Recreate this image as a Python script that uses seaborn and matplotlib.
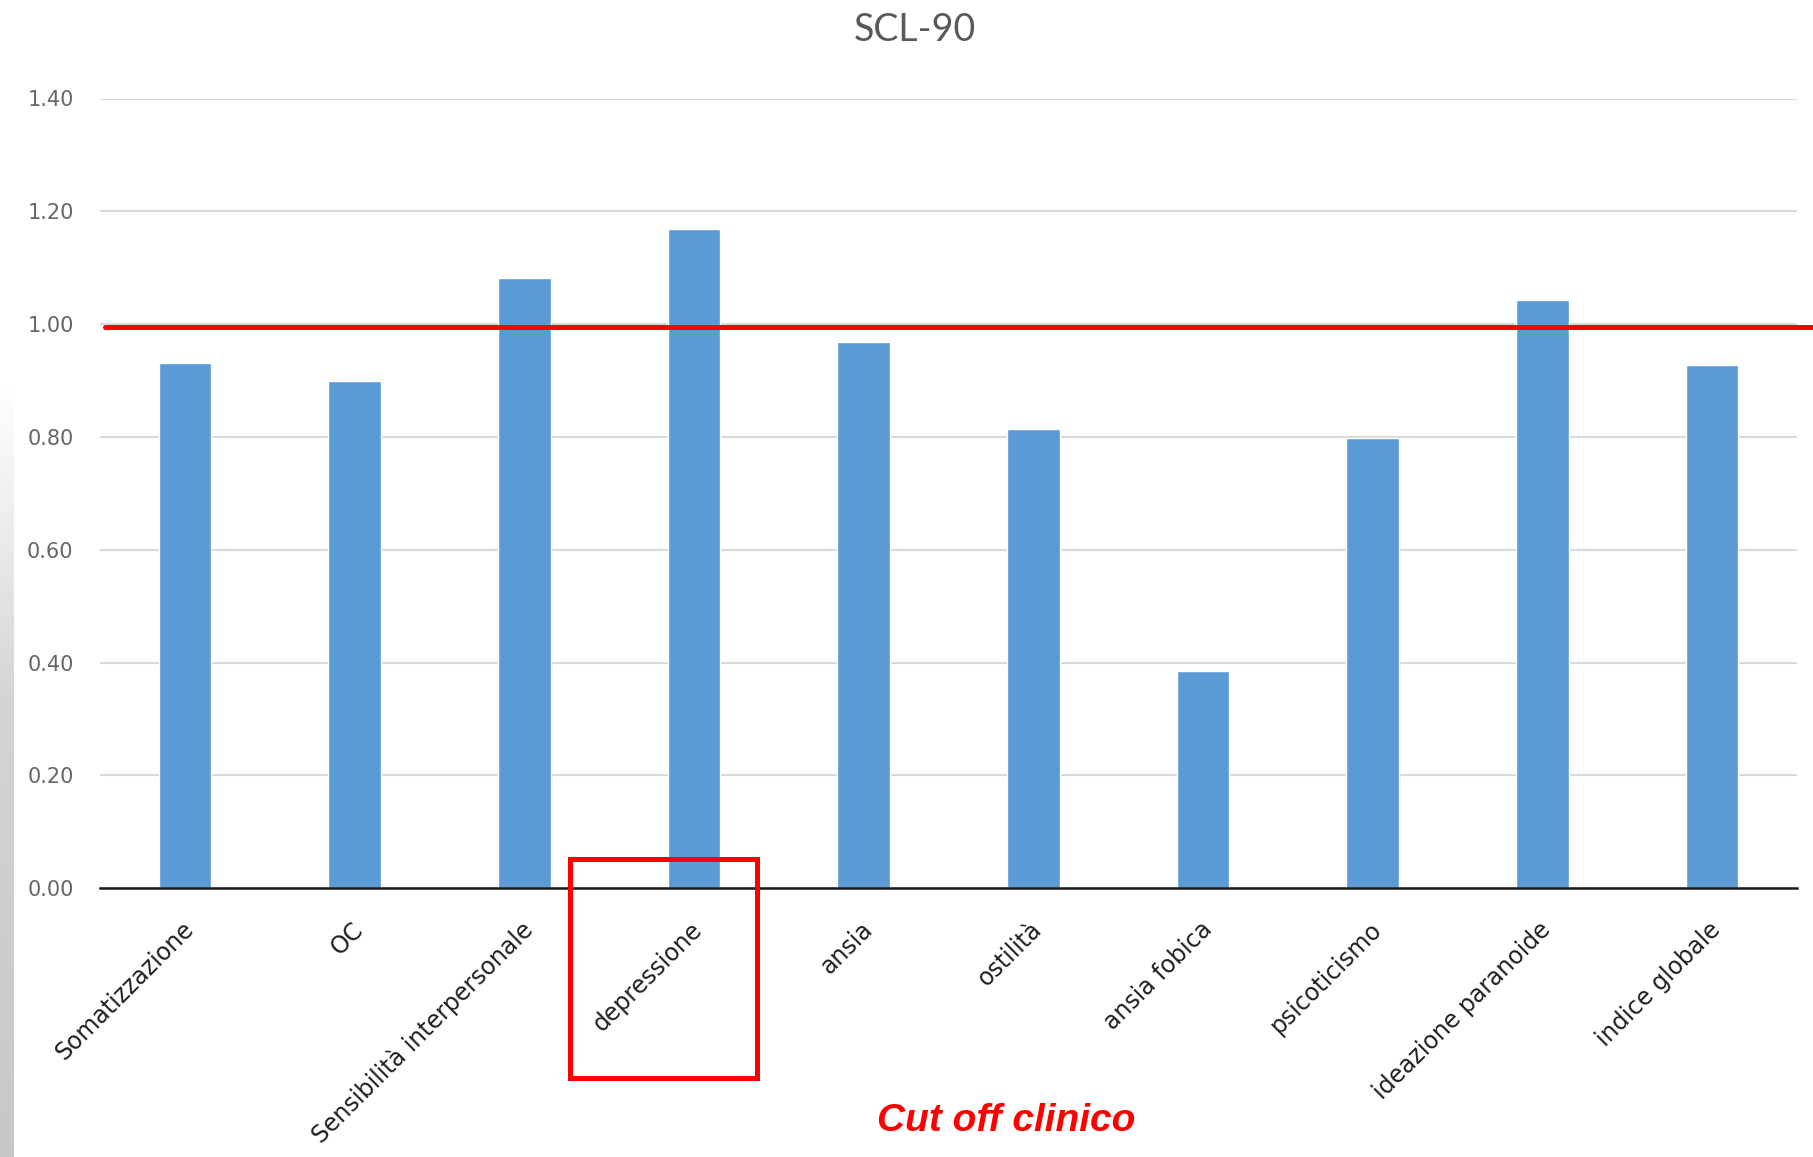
import numpy as np
import pandas as pd
import matplotlib
matplotlib.use("Agg")
import matplotlib.pyplot as plt
from matplotlib.patches import Rectangle
import matplotlib.transforms as mtransforms
import seaborn as sns

# SCL-90 subscale scores
categories = [
    "Somatizzazione", "OC", "Sensibilità interpersonale", "depressione",
    "ansia", "ostilità", "ansia fobica", "psicoticismo",
    "ideazione paranoide", "indice globale",
]
scores = [0.932, 0.899, 1.082, 1.168, 0.968, 0.814, 0.385, 0.798, 1.043, 0.928]
cutoff = 0.995
y_ticks = [0.0, 0.2, 0.4, 0.6, 0.8, 1.0, 1.2, 1.4]

title_text = "SCL-90"
cutoff_text = "Cut off clinico"

sns.set_style("white")
plt.rcParams["font.family"] = ["DejaVu Sans"]

W, H = 1813, 1157
fig = plt.figure(figsize=(W / 100, H / 100), dpi=100)
fig.patch.set_facecolor("white")

# soft grey shading along the left edge
strip = fig.add_axes([0, 0, 14 / W, 1])
rows = np.arange(H)
shade = np.interp(rows, [0, 380, 700, H], [1.0, 1.0, 0.83, 0.78])
strip.imshow(np.repeat(shade[:, None], 2, axis=1), cmap="gray", vmin=0, vmax=1,
             aspect="auto", extent=[0, 1, 0, 1], origin="upper")
strip.set_axis_off()

left, right = 100 / W, 1797 / W
bottom, top = 1 - 888.3 / H, 1 - 98.5 / H
ax = fig.add_axes([left, bottom, right - left, top - bottom])

df = pd.DataFrame({"categoria": categories, "punteggio": scores})
sns.barplot(data=df, x="categoria", y="punteggio", color="#5B9BD5",
            width=0.31, saturation=1, ax=ax, zorder=3)

ax.set_ylim(0, 1.4)
ax.set_xlim(-0.5, len(categories) - 0.5)
ax.set_yticks(y_ticks)
ax.set_yticklabels([f"{t:.2f}" for t in y_ticks], fontsize=15, color="#666666")
ax.yaxis.grid(True, color="#d9d9d9", linewidth=1.5, zorder=0)
ax.xaxis.grid(False)
ax.set_axisbelow(True)
ax.tick_params(axis="y", length=0, pad=19)
ax.tick_params(axis="x", length=0, pad=27)
for side in ("left", "right", "top"):
    ax.spines[side].set_visible(False)
ax.spines["bottom"].set_color("#1a1a1a")
ax.spines["bottom"].set_linewidth(1.8)
ax.spines["bottom"].set_zorder(4)
ax.set_xlabel("")
ax.set_ylabel("")

ax.set_xticks(range(len(categories)))
ax.set_xticklabels(categories, rotation=45, ha="right", va="center",
                   rotation_mode="anchor", fontsize=17, color="#1f1f1f")
shift = mtransforms.ScaledTranslation(5 / 100, 0, fig.dpi_scale_trans)
for lab in ax.get_xticklabels():
    lab.set_transform(lab.get_transform() + shift)

# clinical cut-off line, running past the right edge of the plot
ax.axhline(cutoff, xmin=5 / 1697, xmax=(W - 100) / 1697, color="#FF0000",
           linewidth=3.6, zorder=5, clip_on=False)

# frame around the "depressione" label
fig.patches.append(Rectangle((570 / W, 1 - 1078 / H), (757 - 570) / W,
                             (1078 - 859) / H, transform=fig.transFigure,
                             fill=False, edgecolor="#FF0000", linewidth=3.6,
                             zorder=6))

fig.text(915 / W, 1 - 30 / H, title_text, ha="center", va="center",
         fontsize=27, color="#595959", family="Lato")
fig.text(1006 / W, 1 - 1121 / H, cutoff_text, ha="center", va="center",
         fontsize=28, color="#FF0000", fontweight="bold", fontstyle="italic",
         family="Liberation Sans")

fig.savefig("out.png", dpi=100, facecolor="white")
